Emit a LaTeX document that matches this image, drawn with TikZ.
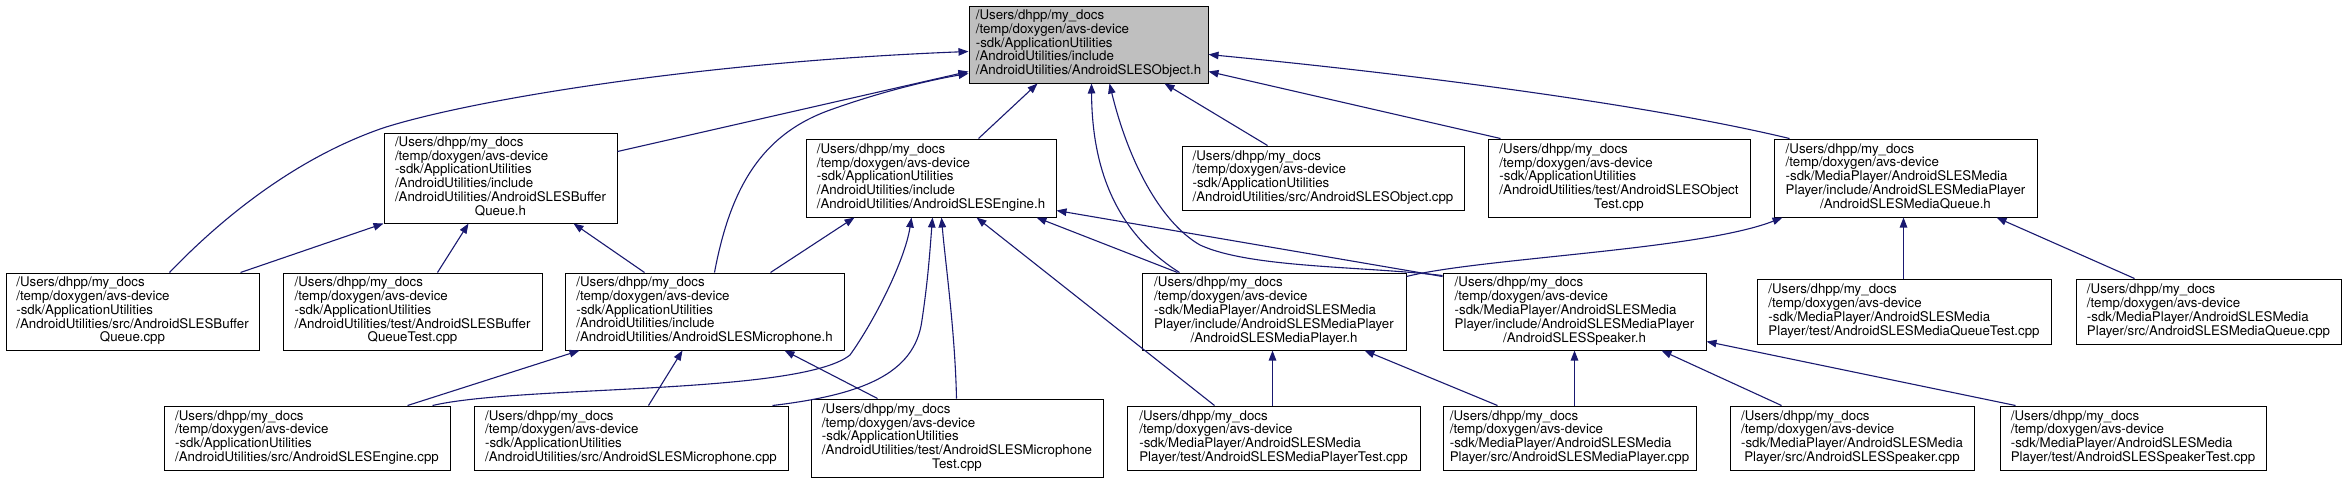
\documentclass[tikz,border=0pt]{standalone}
\usepackage{fontspec}
\setmainfont{TeX Gyre Heros}
\usetikzlibrary{arrows.meta}
\definecolor{edgeblue}{HTML}{191970}
\definecolor{rootgray}{HTML}{BFBFBF}
\newcommand\lastl[1]{\multicolumn{1}{@{}c@{}}{#1}}
\newcommand\hA{/Users/dhpp/my\_docs\\/temp/doxygen/avs-device\\-sdk/ApplicationUtilities}
\newcommand\hM{/Users/dhpp/my\_docs\\/temp/doxygen/avs-device\\-sdk/MediaPlayer/AndroidSLESMedia}
\newcommand\bx[7][]{%
  \pgfmathsetmacro\bxcx{(#3+#5)/2}%
  \pgfmathsetmacro\bxcy{(#4+#6)/2}%
  \pgfmathsetmacro\bxw{#5-#3}%
  \pgfmathsetmacro\bxh{#6-#4}%
  \node[box,#1,minimum width=\bxw pt,minimum height=\bxh pt] (#2) at (\bxcx,\bxcy)
    {\begin{tabular}{@{}l@{}}#7\end{tabular}};}
\begin{document}
\begin{tikzpicture}[x=1pt,y=-1pt,
  box/.style={draw=black,line width=1pt,fill=white,inner sep=0pt,
    font=\fontsize{13.3}{13.3}\selectfont},
  edge/.style={draw=edgeblue,line width=1.1pt,-{Triangle[length=10pt,width=7.5pt]}}]
\fill[white] (0,0) rectangle (2347,483);
\useasboundingbox (0,0) rectangle (2347,483);
% row 0
\bx[fill=rootgray]{root}{969}{6}{1208}{83}{\hA\\/AndroidUtilities/include\\\lastl{/AndroidUtilities/AndroidSLESObject.h}}
% row 1
\bx{bqh}{384}{133}{617}{223}{\hA\\/AndroidUtilities/include\\/AndroidUtilities/AndroidSLESBuffer\\\lastl{Queue.h}}
\bx{engh}{806}{139}{1056}{217}{\hA\\/AndroidUtilities/include\\\lastl{/AndroidUtilities/AndroidSLESEngine.h}}
\bx{objcpp}{1182}{146}{1464}{210}{\hA\\\lastl{/AndroidUtilities/src/AndroidSLESObject.cpp}}
\bx{objtest}{1488}{139}{1750}{217}{\hA\\/AndroidUtilities/test/AndroidSLESObject\\\lastl{Test.cpp}}
\bx{mqh}{1774}{139}{2037}{217}{\hM\\Player/include/AndroidSLESMediaPlayer\\\lastl{/AndroidSLESMediaQueue.h}}
% row 2
\bx{bqcpp}{6}{273}{259}{350}{\hA\\/AndroidUtilities/src/AndroidSLESBuffer\\\lastl{Queue.cpp}}
\bx{bqtest}{283}{273}{542}{350}{\hA\\/AndroidUtilities/test/AndroidSLESBuffer\\\lastl{QueueTest.cpp}}
\bx{mich}{565}{273}{844}{350}{\hA\\/AndroidUtilities/include\\\lastl{/AndroidUtilities/AndroidSLESMicrophone.h}}
\bx{mph}{1142}{273}{1406}{350}{\hM\\Player/include/AndroidSLESMediaPlayer\\\lastl{/AndroidSLESMediaPlayer.h}}
\bx{spkh}{1443}{273}{1706}{350}{\hM\\Player/include/AndroidSLESMediaPlayer\\\lastl{/AndroidSLESSpeaker.h}}
\bx{mqtest}{1757}{279}{2051}{344}{\hM\\\lastl{Player/test/AndroidSLESMediaQueueTest.cpp}}
\bx{mqcpp}{2076}{279}{2341}{344}{\hM\\\lastl{Player/src/AndroidSLESMediaQueue.cpp}}
% row 3
\bx{engcpp}{164}{406}{450}{470}{\hA\\\lastl{/AndroidUtilities/src/AndroidSLESEngine.cpp}}
\bx{miccpp}{474}{406}{788}{470}{\hA\\\lastl{/AndroidUtilities/src/AndroidSLESMicrophone.cpp}}
\bx{mictest}{811}{399}{1103}{477}{\hA\\/AndroidUtilities/test/AndroidSLESMicrophone\\\lastl{Test.cpp}}
\bx{mptest}{1127}{406}{1420}{470}{\hM\\\lastl{Player/test/AndroidSLESMediaPlayerTest.cpp}}
\bx{mpcpp}{1443}{406}{1696}{470}{\hM\\\lastl{Player/src/AndroidSLESMediaPlayer.cpp}}
\bx{spkcpp}{1730}{406}{1974}{470}{\hM\\\lastl{Player/src/AndroidSLESSpeaker.cpp}}
\bx{spktest}{2000}{406}{2266}{470}{\hM\\\lastl{Player/test/AndroidSLESSpeakerTest.cpp}}
% edges into root
\draw[edge] ([shift={(164,0)}]bqcpp.north west) .. controls (215,225) and (290,160) .. (383,128)
  .. controls (470,100) and (700,62) .. ([shift={(0,46)}]root.north west);
\draw[edge] ([shift={(0,19)}]bqh.north east) -- ([shift={(0,66)}]root.north west);
\draw[edge] ([shift={(150,0)}]mich.north west) .. controls (730,190) and (760,135) .. (830,110)
  .. controls (880,92) and (930,80) .. ([shift={(0,68)}]root.north west);
\draw[edge] ([shift={(173,0)}]engh.north west) -- ([shift={(69,0)}]root.south west);
\draw[edge] ([shift={(38,0)}]mph.north west) .. controls (1120,235) and (1092,175) .. ([shift={(123,0)}]root.south west);
\draw[edge] ([shift={(0,3)}]spkh.north west) .. controls (1360,266) and (1250,268) .. (1200,245)
  .. controls (1160,222) and (1128,160) .. ([shift={(141,0)}]root.south west);
\draw[edge] ([shift={(86,0)}]objcpp.north west) -- ([shift={(196,0)}]root.south west);
\draw[edge] ([shift={(13,0)}]objtest.north west) -- ([shift={(0,66)}]root.north east);
\draw[edge] ([shift={(16,0)}]mqh.north west) .. controls (1650,105) and (1420,75) .. ([shift={(0,49)}]root.north east);
% edges into Engine.h
\draw[edge] ([shift={(206,0)}]mich.north west) -- ([shift={(49,0)}]engh.south west);
\draw[edge] ([shift={(269,0)}]engcpp.north west) .. controls (520,385) and (800,395) .. (850,355)
  .. controls (875,320) and (905,260) .. ([shift={(106,0)}]engh.south west);
\draw[edge] ([shift={(299,0)}]miccpp.north west) .. controls (860,395) and (915,375) .. (922,320)
  .. controls (928,280) and (930,250) .. ([shift={(127,0)}]engh.south west);
\draw[edge] ([shift={(146,0)}]mictest.north west) .. controls (955,330) and (945,260) .. ([shift={(136,0)}]engh.south west);
\draw[edge] ([shift={(88,0)}]mptest.north west) -- ([shift={(171,0)}]engh.south west);
\draw[edge] ([shift={(36,0)}]mph.north west) -- ([shift={(231,0)}]engh.south west);
\draw[edge] ([shift={(0,4)}]spkh.north west) -- ([shift={(0,72)}]engh.north east);
% edges into BufferQueue.h
\draw[edge] ([shift={(235,0)}]bqcpp.north west) -- (bqh.south west);
\draw[edge] ([shift={(155,0)}]bqtest.north west) -- ([shift={(85,0)}]bqh.south west);
\draw[edge] ([shift={(80,0)}]mich.north west) -- ([shift={(190,0)}]bqh.south west);
% edges into Microphone.h
\draw[edge] ([shift={(244,0)}]engcpp.north west) -- ([shift={(15,0)}]mich.south west);
\draw[edge] ([shift={(175,0)}]miccpp.north west) -- ([shift={(118,0)}]mich.south west);
\draw[edge] ([shift={(67,0)}]mictest.north west) -- ([shift={(220,0)}]mich.south west);
% edges into MediaQueue.h
\draw[edge] ([shift={(0,4)}]mph.north east) .. controls (1480,258) and (1700,250) .. ([shift={(9,0)}]mqh.south west);
\draw[edge] ([shift={(147,0)}]mqtest.north west) -- ([shift={(130,0)}]mqh.south west);
\draw[edge] ([shift={(59,0)}]mqcpp.north west) -- ([shift={(223,0)}]mqh.south west);
% edges into MediaPlayer.h
\draw[edge] ([shift={(146,0)}]mptest.north west) -- ([shift={(131,0)}]mph.south west);
\draw[edge] ([shift={(55,0)}]mpcpp.north west) -- ([shift={(223,0)}]mph.south west);
% edges into Speaker.h
\draw[edge] ([shift={(132,0)}]mpcpp.north west) -- ([shift={(132,0)}]spkh.south west);
\draw[edge] ([shift={(52,0)}]spkcpp.north west) -- ([shift={(219,0)}]spkh.south west);
\draw[edge] ([shift={(16,0)}]spktest.north west) -- ([shift={(0,-9)}]spkh.south east);
\end{tikzpicture}
\end{document}
